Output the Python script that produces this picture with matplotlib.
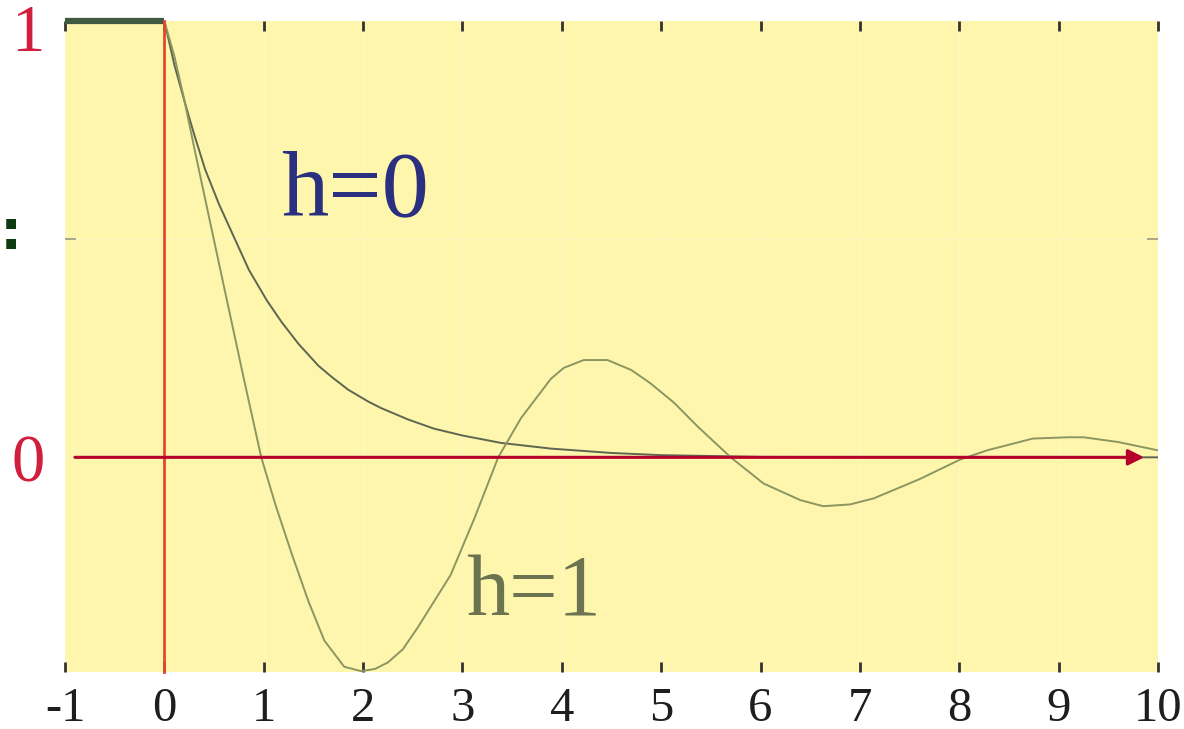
import numpy as np
import matplotlib
matplotlib.use("Agg")
import matplotlib.pyplot as plt

# step response samples, read per curve
t_h0 = [0, 0.1, 0.21, 0.3, 0.41, 0.55, 0.67, 0.85, 1.03, 1.18, 1.35, 1.55,
        1.68, 1.85, 2.05, 2.18, 2.45, 2.71, 3.0, 3.39, 3.89, 4.5, 5.0, 6.0,
        8.0, 10.0]
y_h0 = [1.0, 0.90, 0.81, 0.74, 0.66, 0.58, 0.52, 0.43, 0.36, 0.31, 0.26,
        0.21, 0.185, 0.155, 0.128, 0.113, 0.087, 0.066, 0.05, 0.033, 0.02,
        0.01, 0.005, 0.001, 0.0, 0.0]

t_h1 = [0, 0.1, 0.2, 0.3, 0.45, 0.62, 0.8, 0.975, 1.12, 1.28, 1.45, 1.61,
        1.81, 1.98, 2.12, 2.25, 2.4, 2.55, 2.88, 3.12, 3.36, 3.59, 3.89,
        4.02, 4.22, 4.46, 4.7, 4.89, 5.13, 5.37, 5.70, 6.03, 6.40, 6.63,
        6.9, 7.14, 7.6, 8.01, 8.28, 8.74, 9.1, 9.25, 9.6, 10.0]
y_h1 = [1.0, 0.92, 0.82, 0.71, 0.55, 0.37, 0.18, 0.0, -0.11, -0.22, -0.33,
        -0.42, -0.48, -0.49, -0.485, -0.47, -0.44, -0.39, -0.27, -0.14, 0.0,
        0.09, 0.18, 0.205, 0.223, 0.223, 0.20, 0.17, 0.125, 0.07, 0.0, -0.06,
        -0.098, -0.112, -0.108, -0.094, -0.05, -0.005, 0.016, 0.043, 0.046,
        0.046, 0.035, 0.016]

# input step before t=0
t_pre = [-1, 0]
y_pre = [1, 1]

xticks = list(range(-1, 11))
ylabels = {0: "0", 1: "1"}

serif = ["Liberation Serif", "DejaVu Serif"]

fig = plt.figure(figsize=(11.84, 7.29), dpi=100)
ax = fig.add_axes([65 / 1184, 1 - 672 / 729, (1158 - 65) / 1184, (672 - 21) / 729])
ax.set_facecolor("#fef6ad")
ax.set_xlim(-1, 10)
ax.set_ylim(-0.492, 1.0)

for s in ax.spines.values():
    s.set_visible(False)

# faint grid
for xv in xticks:
    ax.axvline(xv, color="#fff8be", lw=1.0, zorder=0)
ax.axhline(0.5, color="#fff8be", lw=1.0, zorder=0)

ax.plot(t_h0, y_h0, color="#5d6650", lw=1.4, zorder=3)
ax.plot(t_h1, y_h1, color="#8c9660", lw=1.4, zorder=3)
ax.plot(t_pre, y_pre, color="#3f5a40", lw=4.5, clip_on=False, zorder=4,
        solid_capstyle="butt")

# axes of the response
ax.plot([0, 0], [-0.492, 1.0], color="#e5472a", lw=2.0, zorder=5, clip_on=False)
ax.annotate("", xy=(9.86, 0), xytext=(-0.9, 0),
            arrowprops=dict(arrowstyle="-|>", color="#b5002c", lw=2.2,
                            mutation_scale=24, shrinkA=0, shrinkB=0),
            zorder=6)

ax.set_xticks(xticks)
ax.set_xticklabels([str(v) for v in xticks], fontfamily=serif, fontsize=35,
                   color="#1e1e1e")
ax.tick_params(axis="x", direction="in", length=7, width=2, color="#333333",
               top=True, pad=11)

ax.set_yticks([])
ax.set_yticks([0.5], minor=True)
ax.tick_params(axis="y", which="minor", direction="in", length=8, width=1.2,
               color="#9a9a80", right=True)
for yv, txt in ylabels.items():
    ax.text(-0.034, yv - 0.018 - 0.012 * yv, txt,
            transform=ax.get_yaxis_transform(),
            fontfamily=serif, fontsize=48, color="#d01e3c",
            ha="center", va="center")

ax.text(1.176, 0.554, "h=0", fontfamily=serif, fontsize=68, color="#2a2f7f",
        ha="left", va="baseline")
ax.text(3.035, -0.362, "h=1", fontfamily=serif, fontsize=62, color="#6b7350",
        ha="left", va="baseline")

fig.text(0, 1 - 234 / 729, ":", fontsize=40, color="#0d3a10",
         fontweight="bold", ha="left", va="center")

fig.savefig("out.png", dpi=100)
